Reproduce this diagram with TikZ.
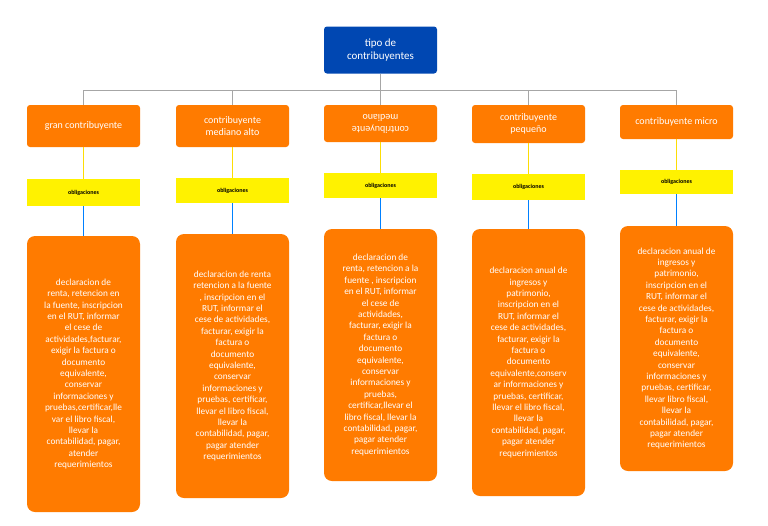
\documentclass[tikz,border=0pt]{standalone}
\usepackage{fontspec}
\setmainfont{Carlito}
\begin{document}
\begin{tikzpicture}[x=1pt,y=-1pt,
  tipo/.style={fill=blue!60!cyan!70!black, rounded corners=3pt, text=white, align=center, font=\fontsize{11}{13}\selectfont},
  clase/.style={fill=orange!85!red!90!yellow, rounded corners=3pt, text=white, align=center, font=\fontsize{10}{12}\selectfont, minimum width=113pt},
  oblig/.style={fill=yellow, font=\fontsize{6}{7}\selectfont\bfseries, minimum width=113pt, inner sep=0pt},
  detalle/.style={fill=orange!85!red!90!yellow, rounded corners=8pt, text=white, align=center, font=\fontsize{9.3}{11.4}\selectfont, minimum width=113pt, inner sep=0pt},
  rama/.style={draw=gray!70, line width=0.6pt},
  enlace/.style={draw=yellow!80!orange, line width=0.6pt},
  baja/.style={draw=blue!50!cyan, line width=0.6pt}]
  \useasboundingbox (0,0) rectangle (768,525);

  % top of the tree
  \node [tipo, minimum width=113pt, minimum height=47pt] (root) at (380.5,50) {tipo de\\contribuyentes};
  \coordinate (bar) at (380.5,90);

  % kinds of taxpayer
  \node [clase, minimum height=42pt] (gran) at (83.5,126) {gran contribuyente};
  \node [clase, minimum height=42pt] (alto) at (232.5,126) {contribuyente\\mediano alto};
  \node [clase, minimum height=37pt, rotate=180] (med) at (380.5,123.5) {contribuyente\\mediano};
  \node [clase, minimum height=38pt] (peq) at (528.5,124) {contribuyente\\peque\~no};
  \node [clase, minimum height=34pt] (micro) at (676.5,122) {contribuyente micro};

  % obligations labels
  \node [oblig, minimum height=27pt] (ogran) at (83.5,192.5) {obligaciones};
  \node [oblig, minimum height=25pt] (oalto) at (232.5,190.5) {obligaciones};
  \node [oblig, minimum height=25pt] (omed) at (380.5,185.5) {obligaciones};
  \node [oblig, minimum height=26pt] (opeq) at (528.5,187) {obligaciones};
  \node [oblig, minimum height=24pt] (omicro) at (676.5,182) {obligaciones};

  % details of each kind
  \node [detalle, minimum height=276pt] (dgran) at (83.5,374) {declaracion de\\renta, retencion en\\la fuente, inscripcion\\en el RUT, informar\\el cese de\\actividades,facturar,\\exigir la factura o\\documento\\equivalente,\\conservar\\informaciones y\\pruebas,certificar,lle\\var el libro fiscal,\\llevar la\\contabilidad, pagar,\\atender\\requerimientos};
  \node [detalle, minimum height=264pt] (dalto) at (232.5,366) {declaracion de renta\\retencion a la fuente\\, inscripcion en el\\RUT, informar el\\cese de actividades,\\facturar, exigir la\\factura o\\documento\\equivalente,\\conservar\\informaciones y\\pruebas, certificar,\\llevar el libro fiscal,\\llevar la\\contabilidad, pagar,\\pagar atender\\requerimientos};
  \node [detalle, minimum height=252pt] (dmed) at (380.5,355) {declaracion de\\renta, retencion a la\\fuente , inscripcion\\en el RUT, informar\\el cese de\\actividades,\\facturar, exigir la\\factura o\\documento\\equivalente,\\conservar\\informaciones y\\pruebas,\\certificar,llevar el\\libro fiscal, llevar la\\contabilidad, pagar,\\pagar atender\\requerimientos};
  \node [detalle, minimum height=267pt] (dpeq) at (528.5,362.5) {declaracion anual de\\ingresos y\\patrimonio,\\inscripcion en el\\RUT, informar el\\cese de actividades,\\facturar, exigir la\\factura o\\documento\\equivalente,conserv\\ar informaciones y\\pruebas, certificar,\\llevar el libro fiscal,\\llevar la\\contabilidad, pagar,\\pagar atender\\requerimientos};
  \node [detalle, minimum height=245pt] (dmicro) at (676.5,348.5) {declaracion anual de\\ingresos y\\patrimonio,\\inscripcion en el\\RUT, informar el\\cese de actividades,\\facturar, exigir la\\factura o\\documento\\equivalente,\\conservar\\informaciones y\\pruebas, certificar,\\llevar libro fiscal,\\llevar la\\contabilidad, pagar,\\pagar atender\\requerimientos};

  % connectors
  \draw [rama] (root.south) -- (bar);
  \foreach \k in {gran,alto,peq,micro}
    \draw [rama] (bar) -| (\k.north);
  \draw [rama] (bar) -- (med.south);
  \draw [enlace] (gran.south) -- (ogran.north);
  \draw [enlace] (alto.south) -- (oalto.north);
  \draw [enlace] (med.north) -- (omed.north);
  \draw [enlace] (peq.south) -- (opeq.north);
  \draw [enlace] (micro.south) -- (omicro.north);
  \draw [baja] (ogran.south) -- (dgran.north);
  \draw [baja] (oalto.south) -- (dalto.north);
  \draw [baja] (omed.south) -- (dmed.north);
  \draw [baja] (opeq.south) -- (dpeq.north);
  \draw [baja] (omicro.south) -- (dmicro.north);
\end{tikzpicture}
\end{document}
